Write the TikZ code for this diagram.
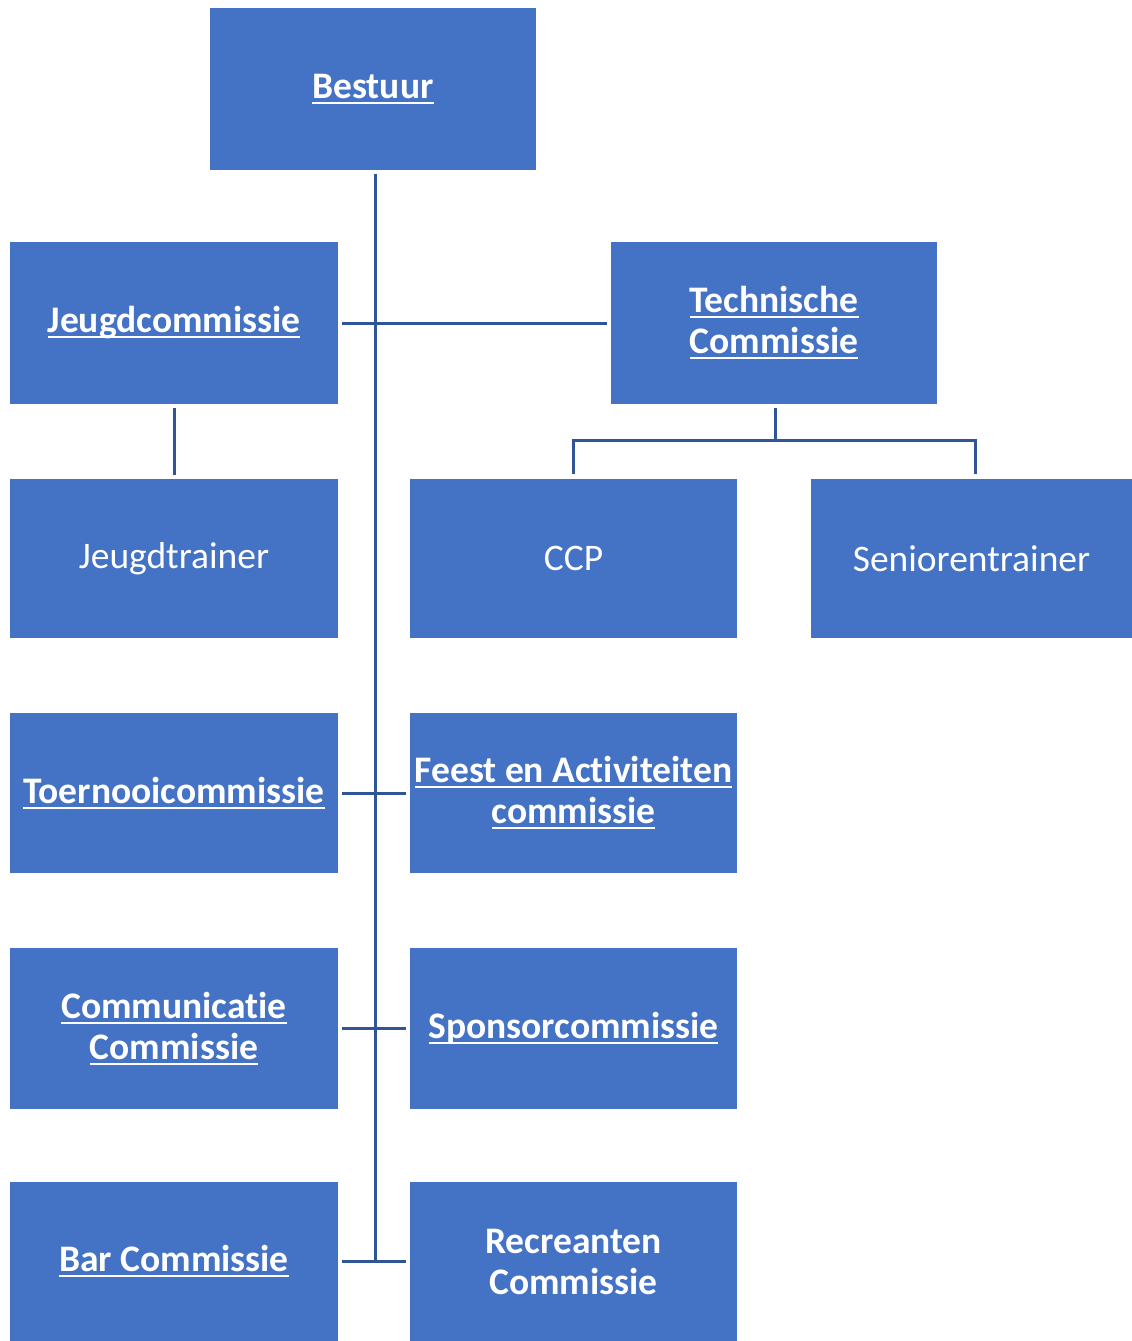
\documentclass[tikz,border=0pt]{standalone}
\usepackage{fontspec}
\setmainfont[Ligatures={NoCommon}]{Carlito}
\definecolor{boxblue}{HTML}{4472C4}
\definecolor{lineblue}{HTML}{2F5597}
\newcommand\myul[1]{\setbox0\hbox{#1}\rlap{\rule[-5.5pt]{\wd0}{2pt}}\box0}
\begin{document}
\begin{tikzpicture}[x=1pt,y=-1pt,
  box/.style={fill=boxblue, draw=none, inner sep=0pt, text=white,
    font=\fontsize{37.5}{41}\selectfont, align=center},
  bb/.style={box, font=\fontsize{37.5}{41}\selectfont\bfseries},
  link/.style={draw=lineblue, line width=3pt}]
\useasboundingbox (0,0) rectangle (1132,1341);
\node[bb, minimum width=326pt, minimum height=162pt] (bestuur) at (373,89) {\myul{Bestuur}};
\node[bb, minimum width=328pt, minimum height=162pt] (jeugd) at (174,323) {\myul{Jeugdcommissie}};
\node[bb, minimum width=326pt, minimum height=162pt] (tech) at (774,323) {\myul{Technische}\\\myul{Commissie}};
\node[box, minimum width=328pt, minimum height=159pt] (jtrainer) at (174,558.5) {Jeugdtrainer};
\node[box, minimum width=327pt, minimum height=159pt] (ccp) at (573.5,558.5) {CCP};
\node[box, minimum width=321pt, minimum height=159pt] (senior) at (971.5,558.5) {Seniorentrainer};
\node[bb, minimum width=328pt, minimum height=160pt] (toern) at (174,793) {\myul{Toernooicommissie}};
\node[bb, minimum width=327pt, minimum height=160pt] (feest) at (573.5,793) {\myul{Feest en Activiteiten}\\\myul{commissie}};
\node[bb, minimum width=328pt, minimum height=161pt] (comm) at (174,1028.5) {\myul{Communicatie}\\\myul{Commissie}};
\node[bb, minimum width=327pt, minimum height=161pt] (sponsor) at (573.5,1028.5) {\myul{Sponsorcommissie}};
\node[bb, minimum width=328pt, minimum height=159pt] (bar) at (174,1261.5) {\myul{Bar Commissie}};
\node[bb, minimum width=327pt, minimum height=159pt] (recr) at (573.5,1261.5) {Recreanten\\Commissie};
% trunk
\draw[link] ([xshift=2pt,yshift=-4pt]bestuur.south) -- ([xshift=2pt]bestuur.south |- bar.east);
% side links
\draw[link] ([xshift=4pt]jeugd.east) -- ([xshift=-4pt]tech.west);
\draw[link] ([xshift=4pt]toern.east) -- ([xshift=-4pt]feest.west);
\draw[link] ([xshift=4pt]comm.east) -- ([xshift=-4pt]sponsor.west);
\draw[link] ([xshift=4pt]bar.east) -- ([xshift=-4pt]recr.west);
% jeugd
\draw[link] ([yshift=-4pt]jeugd.south) -- ([yshift=4pt]jtrainer.north);
% tech
\draw[link] ([xshift=1pt,yshift=-4pt]tech.south) -- ([xshift=1pt,yshift=-36pt]tech.south);
\draw[link] ([yshift=5pt]ccp.north) |- ([yshift=-36pt]tech.south) -| ([xshift=3.5pt,yshift=5pt]senior.north);
\end{tikzpicture}
\end{document}
